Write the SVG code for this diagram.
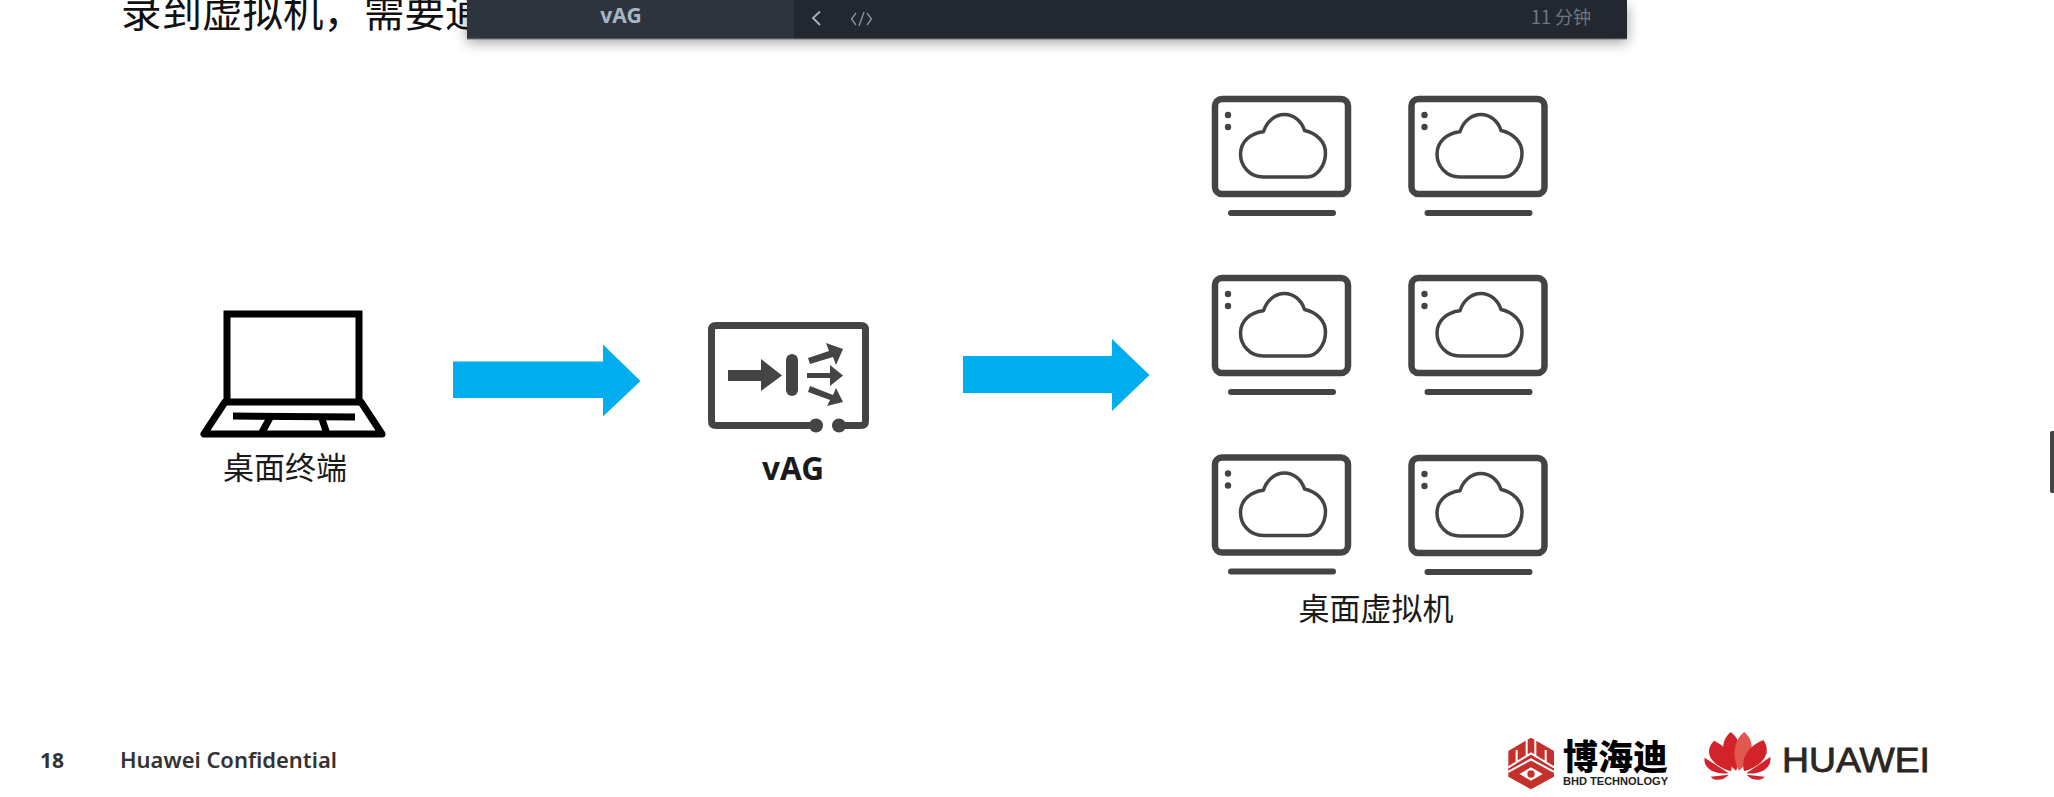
<svg xmlns="http://www.w3.org/2000/svg" width="2054" height="797" viewBox="0 0 2054 797">
<style>
.cjk{font-family:"Noto Sans CJK SC","Noto Sans",sans-serif}
.lat{font-family:"Noto Sans","Open Sans",sans-serif}
.lab{fill:#1a1a1a;text-anchor:middle}
.ic{fill:none;stroke:#444;stroke-linecap:round;stroke-linejoin:round}
.flow{fill:#00aeef}
.pet{fill:#d2232a}
</style>
<defs>
<filter id="sh" x="-5%" y="-50%" width="110%" height="220%"><feGaussianBlur stdDeviation="7"/></filter>
<g id="vm">
<rect x="3" y="3" width="133" height="95" rx="7" class="ic" stroke-width="6.500"/>
<circle cx="16" cy="19" r="3.200" fill="#444"/><circle cx="16" cy="31" r="3.200" fill="#444"/>
<path transform="translate(1.500 0)" d="M50 81 C36 81 27 70 27 58 C27 46 37 37 50 35.700 C53 26 61 18.500 71 18.500 C80 18.500 88 25 91 34.500 C103 37 112 46 112 57 C112 70 103 81 94 81 Z" class="ic" stroke-width="3.500"/>
<path d="M19 117 H121" class="ic" stroke-width="6"/>
</g>
</defs>
<rect width="2054" height="797" fill="#fff"/>

<g id="title"><text x="121" y="27" class="cjk" font-size="40.5" fill="#111">录到虚拟机，需要通</text></g>

<g id="player-bar">
<rect x="467" y="6" width="1160" height="36" fill="#000" opacity=".4" filter="url(#sh)"/>
<rect x="467" y="0" width="327" height="39" fill="#2e343d"/>
<rect x="794" y="0" width="833" height="39" fill="#23272f"/>
<rect x="467" y="38.5" width="1160" height="1" fill="#777c84"/>
<text x="621" y="23" class="lat" font-size="21" font-weight="700" fill="#a9b4c2" text-anchor="middle">vAG</text>
<path d="M820 11.500 L813 18 L820 25" fill="none" stroke="#a9b4c2" stroke-width="1.800"/>
<path d="M856 13 L851.500 19 L856 25 M867 13 L871.500 19 L867 25 M864 12 L859 26" fill="none" stroke="#8b95a3" stroke-width="1.300"/>
<text x="1531" y="24" class="cjk" font-size="18" fill="#6f7986">11 分钟</text>
</g>

<g id="connectors">
<path class="flow" d="M453 361.500 H603 V344.500 L640.500 381 L603 416.500 V398 H453 Z"/>
<path class="flow" d="M963 356 H1112 V339 L1149.500 375 L1112 411 V393 H963 Z"/>
</g>

<g id="desktop-terminal">
<path d="M227 402 V314 H359 V402 Z" fill="none" stroke="#000" stroke-width="7" stroke-linejoin="miter"/>
<path d="M225 402 L204 434 H382 L361 402" fill="none" stroke="#000" stroke-width="7" stroke-linejoin="round" stroke-linecap="round"/>
<path d="M233 416 L355 417" stroke="#000" stroke-width="7" fill="none"/>
<path d="M271 416 L261 434 M321 416 L327 434" stroke="#000" stroke-width="7" fill="none"/>
<text x="285" y="479" class="cjk lab" font-size="31">桌面终端</text>
</g>

<g id="vag">
<path d="M816 425.500 H716 Q711.500 425.500 711.500 421 V330 Q711.500 325.500 716 325.500 H861 Q865.500 325.500 865.500 330 V421 Q865.500 425.500 861 425.500 H839" class="ic" stroke-width="7"/>
<circle cx="816" cy="425.500" r="7" fill="#444"/><circle cx="839" cy="425.500" r="7" fill="#444"/>
<path d="M728 370 H761 V359 L782 375.500 L761 391 V381 H728 Z" fill="#444"/>
<rect x="786" y="354" width="12" height="42" rx="6" fill="#444"/>
<path d="M807 373 H830 V365 L843 375.500 L830 386 V378 H807 Z" fill="#444"/>
<path d="M808 358 L829 351 L826 343 L843 349 L836 365 L833 357 L810 364 Z" fill="#444"/>
<path d="M810 386 L833 395 L836 388 L843 402 L827 406 L830 400 L808 392 Z" fill="#444"/>
<text x="793" y="480" class="lat" font-size="31.500" font-weight="700" fill="#1a1a1a" text-anchor="middle">vAG</text>
</g>

<g id="desktop-vms">
<use href="#vm" x="1212" y="96"/>
<use href="#vm" x="1408.500" y="96"/>
<use href="#vm" x="1212" y="275"/>
<use href="#vm" x="1408.500" y="275"/>
<use href="#vm" x="1212" y="454.500"/>
<use href="#vm" x="1408.500" y="455"/>
<text x="1376" y="620" class="cjk lab" font-size="31">桌面虚拟机</text>
</g>

<g id="footer">
<text x="40" y="768" class="lat" font-size="21" font-weight="700" fill="#333">18</text>
<text x="120" y="768" class="lat" font-size="21" font-weight="600" fill="#333" textLength="217" lengthAdjust="spacingAndGlyphs">Huawei Confidential</text>
</g>

<g id="logo-bhd" transform="translate(1480 710) scale(.3333)">
<path d="M153 83 L222 123 V200 L153 238 L85 200 V123 Z" fill="#c4302b"/>
<path d="M85 172 L153 130 L222 172 M85 186 L153 148 L222 186 M140 83 V140 M166 83 V140 M110 120 V155 M197 120 V155" fill="none" stroke="#fff" stroke-width="6"/>
<path d="M118 192 L153 172 L188 192 L153 212 Z" fill="#fff"/>
<circle cx="153" cy="192" r="11" fill="#c4302b"/>
</g>
<text x="1563" y="770" class="cjk" font-size="35" font-weight="900" fill="#000">博海迪</text>
<text x="1563" y="785" font-family="'Liberation Sans',sans-serif" font-size="10" font-weight="700" fill="#222" textLength="105" lengthAdjust="spacingAndGlyphs">BHD TECHNOLOGY</text>

<g id="logo-huawei">
<g transform="translate(1480 710) scale(.3333)">
<path class="pet" d="M768 182 C722 145 718 95 752 66 C785 90 790 140 768 182 Z"/>
<path d="M777 182 C823 145 827 95 793 66 C760 90 755 140 777 182 Z" fill="#e2584f"/>
<path class="pet" d="M753 184 C690 165 670 125 702 92 C745 112 762 145 753 184 Z"/>
<path class="pet" d="M792 184 C855 165 875 125 850 90 C800 112 783 145 792 184 Z"/>
<path class="pet" d="M746 190 L674 143 C668 175 705 195 746 190 Z"/>
<path class="pet" d="M799 190 L871 141 C877 175 840 195 799 190 Z"/>
<path class="pet" d="M746 194 L692 200 C705 215 730 212 746 194 Z"/>
<path class="pet" d="M800 194 L854 200 C841 215 816 212 800 194 Z"/>
</g>
<text x="1782" y="772" font-family="'Liberation Sans',sans-serif" font-size="35" fill="#2a2624" stroke="#2a2624" stroke-width=".8" textLength="148" lengthAdjust="spacingAndGlyphs">HUAWEI</text>
</g>

<g id="edge-tab"><path d="M2054 431 H2052 Q2050 431 2050 433 V491 Q2050 493 2052 493 H2054 Z" fill="#444"/></g>
</svg>
